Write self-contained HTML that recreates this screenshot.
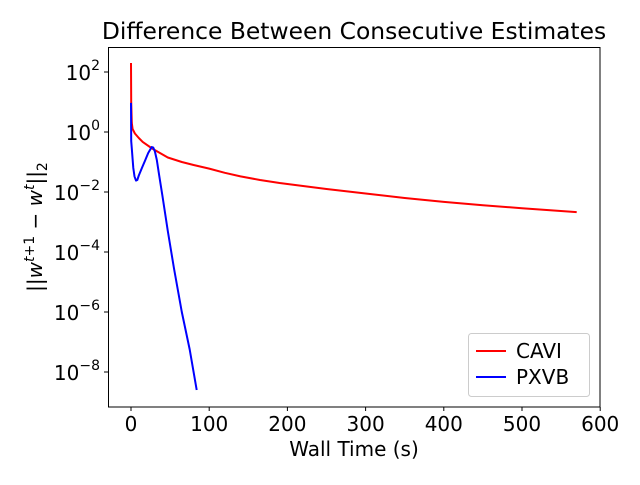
<!DOCTYPE html>
<html><head><meta charset="utf-8"><style>
body{margin:0;background:#fff}
svg text{font-family:"DejaVu Sans","Liberation Sans",sans-serif;fill:#000}
</style></head><body>
<svg id="c" width="640" height="480" xmlns="http://www.w3.org/2000/svg">
<text x="354" y="39" font-size="23.4" text-anchor="middle">Difference Between Consecutive Estimates</text>
<g id="plot"></g>
<rect x="108.5" y="47.5" width="491.5" height="359.5" fill="none" stroke="#000" stroke-width="1"/>
<text x="354" y="456" font-size="20" text-anchor="middle">Wall Time (s)</text>
<text transform="translate(42,227) rotate(-90)" font-size="20" text-anchor="middle">||<tspan font-style="italic">w</tspan><tspan dy="-8" font-size="14" font-style="italic">t</tspan><tspan font-size="14">+1</tspan><tspan dy="8"> − </tspan><tspan font-style="italic">w</tspan><tspan dy="-8" font-size="14" font-style="italic">t</tspan><tspan dy="8">||</tspan><tspan dy="5" font-size="14">2</tspan></text>
<g>
<rect x="468.5" y="333.5" width="121" height="63" rx="3" fill="#fff" stroke="#ccc"/>
<line x1="476" y1="351" x2="506" y2="351" stroke="#f00" stroke-width="2"/>
<text x="516" y="358" font-size="20">CAVI</text>
<line x1="476" y1="377" x2="506" y2="377" stroke="#00f" stroke-width="2"/>
<text x="516" y="384" font-size="20">PXVB</text>
</g>
</svg>
<script>
const xTicks=[0,100,200,300,400,500,600];
const yTickExps=[2,0,-2,-4,-6,-8];
const caviT=[0,0.3,1,2,5,10,15,27,47,65,80,100,120,140,165,190,220,250,300,350,400,450,500,570];
const caviLog=[2.3,1.0,0.3,0.1,-0.05,-0.2,-0.33,-0.55,-0.85,-1.0,-1.1,-1.22,-1.36,-1.48,-1.6,-1.7,-1.8,-1.9,-2.05,-2.2,-2.33,-2.44,-2.54,-2.67];
const pxvbT=[0,0.2,1,2,3,4.5,6.4,8,10,14,18,22,26.5,28.5,30.5,33,36,40,47,55,65,75,84];
const pxvbLog=[0.97,-0.3,-0.55,-0.9,-1.2,-1.48,-1.62,-1.6,-1.45,-1.2,-0.95,-0.7,-0.5,-0.52,-0.65,-0.93,-1.45,-2.1,-3.3,-4.55,-6.0,-7.25,-8.6];
const X=t=>131+t*0.782;
const Y=l=>132-l*30;
const ns="http://www.w3.org/2000/svg";
const g=document.getElementById('plot');
function mk(tag,attrs){const e=document.createElementNS(ns,tag);for(const k in attrs)e.setAttribute(k,attrs[k]);g.appendChild(e);return e;}
xTicks.forEach(v=>{
  const l=mk('line',{x1:X(v),x2:X(v),y1:407,y2:411,stroke:'#000'});
  
  
  const t=mk('text',{x:X(v),y:431,'font-size':20,'text-anchor':'middle'});t.textContent=v;
  
  
});
yTickExps.forEach(v=>{
  const l=mk('line',{x1:104,x2:108,y1:Y(v),y2:Y(v),stroke:'#000'});
  
  
  const t=mk('text',{x:100,y:Y(v)+8,'font-size':20,'text-anchor':'end'});
  t.innerHTML='10<tspan dy="-10" font-size="14">'+(v<0?'−'+(-v):v)+'</tspan>';
  
  
});
function line(ts,ls,color,name){
  const d=ts.map((t,i)=>(i?'L':'M')+X(t).toFixed(1)+','+Y(ls[i]).toFixed(1)).join('');
  const p=mk('path',{d:d,fill:'none',stroke:color,'stroke-width':2,'stroke-linejoin':'round'});
  
  
}
line(caviT,caviLog,'#f00','cavi-line');
line(pxvbT,pxvbLog,'#00f','pxvb-line');
</script>
</body></html>
